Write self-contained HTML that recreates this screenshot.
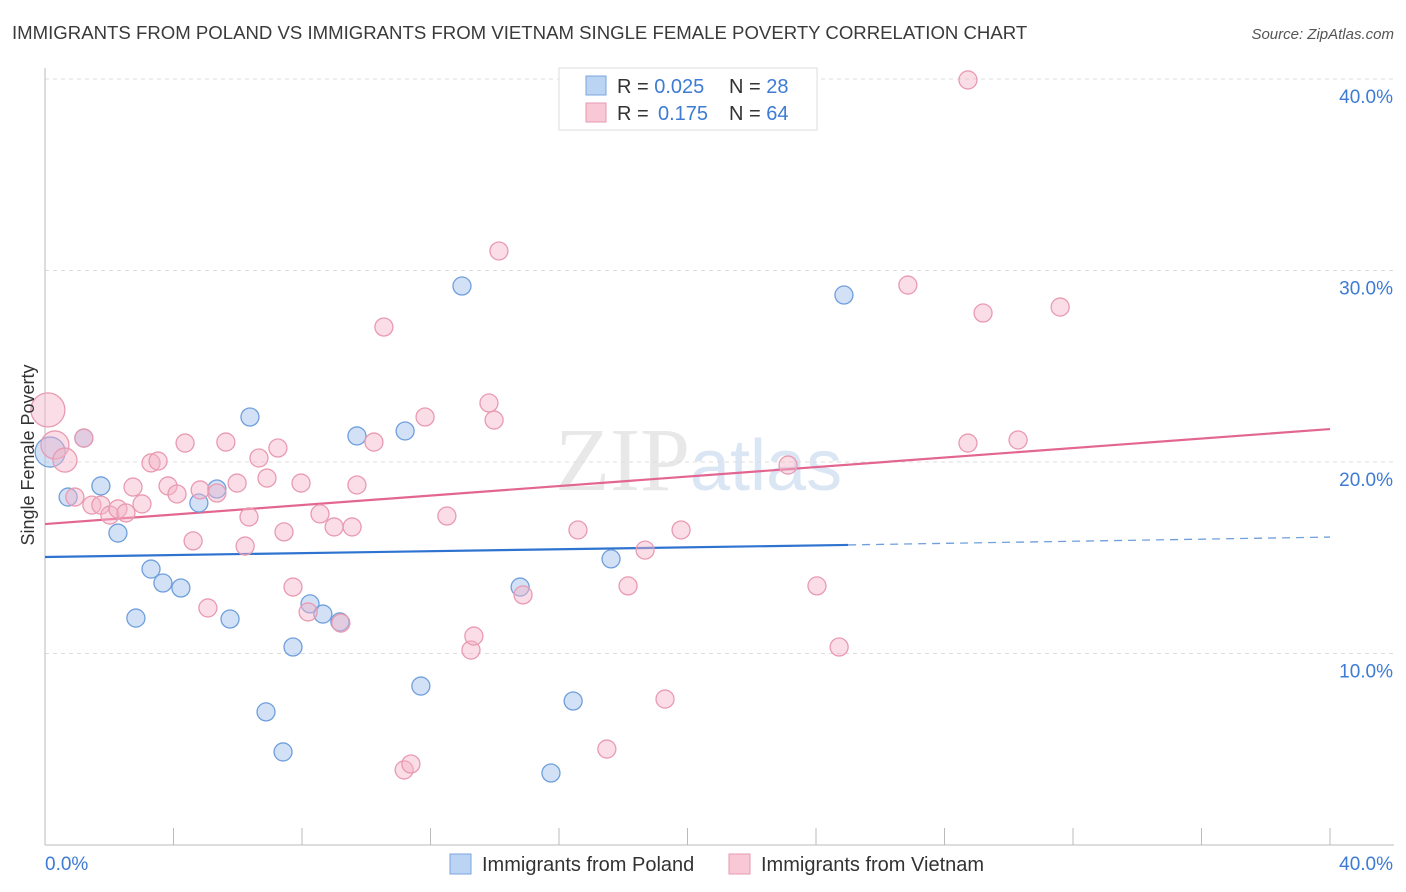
<!DOCTYPE html>
<html><head><meta charset="utf-8">
<style>
body{margin:0;background:#fff;font-family:"Liberation Sans",sans-serif;}
svg{display:block}
</style></head>
<body>
<svg id="chart" width="1406" height="892" xmlns="http://www.w3.org/2000/svg">
<text x="12" y="39" font-size="18.6" fill="#3a3a3a" font-family="Liberation Sans, sans-serif">IMMIGRANTS FROM POLAND VS IMMIGRANTS FROM VIETNAM SINGLE FEMALE POVERTY CORRELATION CHART</text>
<text x="1394" y="39" font-size="15" fill="#555" text-anchor="end" font-style="italic">Source: ZipAtlas.com</text>
<text x="555" y="490" font-size="90" fill="#e8e8e8" font-family="Liberation Serif, serif">ZIP<tspan fill="#dbe6f4" font-family="Liberation Sans, sans-serif" font-size="72">atlas</tspan></text>
<g id="grid"></g>
<g id="axes"></g>
<g id="trend"></g>
<g id="points"></g>
<text transform="translate(34,455) rotate(-90)" font-size="18" fill="#333" text-anchor="middle">Single Female Poverty</text>
<g>
<rect x="559" y="68" width="258" height="62" fill="#fff" stroke="#ddd"/>
<rect x="586" y="76" width="20" height="19" fill="#bcd4f3" stroke="#7aa5dc"/>
<rect x="586" y="103" width="20" height="19" fill="#f9c8d6" stroke="#e99ab1"/>
<text x="617" y="93" font-size="20" fill="#333">R = <tspan fill="#3d7bd4">0.025</tspan><tspan x="729">N = </tspan><tspan fill="#3d7bd4">28</tspan></text>
<text x="617" y="120" font-size="20" fill="#333">R = <tspan x="658" fill="#3d7bd4">0.175</tspan><tspan x="729">N = </tspan><tspan fill="#3d7bd4">64</tspan></text>
</g>
<g>
<rect x="450" y="854" width="21" height="20" fill="#bcd4f3" stroke="#7aa5dc"/>
<text x="482" y="871" font-size="20" fill="#333">Immigrants from Poland</text>
<rect x="729" y="854" width="21" height="20" fill="#f9c8d6" stroke="#e99ab1"/>
<text x="761" y="871" font-size="20" fill="#333">Immigrants from Vietnam</text>
</g>
</svg>
<script>
const polandX=[0.16,1.21,0.72,1.74,2.27,3.30,2.83,3.67,4.23,4.79,5.35,5.76,6.38,6.88,7.41,7.72,8.25,8.65,9.18,9.71,11.21,11.70,12.98,14.79,15.75,16.44,17.62,24.87];
const polandY=[20.52,21.25,18.17,18.75,16.29,14.41,11.85,13.68,13.42,17.86,18.59,11.80,22.35,6.95,4.86,10.34,12.59,12.06,11.65,21.36,21.62,8.30,29.19,13.47,3.76,7.52,14.94,28.72];
const vietnamX=[0.09,0.31,0.62,1.21,0.93,1.46,1.74,2.02,2.27,2.52,2.74,3.02,3.30,3.52,3.83,4.11,4.36,4.61,4.83,5.07,5.35,5.63,5.98,6.23,6.35,6.66,6.91,7.25,7.44,7.72,7.97,8.19,8.56,9.00,9.21,9.56,9.71,10.24,10.55,11.18,11.39,11.83,12.51,13.26,13.35,13.82,13.98,14.13,14.88,16.59,17.49,18.15,18.68,19.30,19.80,23.13,24.03,24.72,26.86,28.73,28.73,29.20,30.29,31.60];
const vietnamY=[22.72,20.89,20.10,21.25,18.17,17.75,17.75,17.23,17.55,17.34,18.69,17.81,19.95,20.05,18.75,18.33,20.99,15.88,18.54,12.38,18.38,21.04,18.90,15.61,17.13,20.21,19.16,20.73,16.35,13.47,18.90,12.17,17.29,16.61,11.59,16.61,18.80,21.04,27.05,3.92,4.23,22.35,17.18,10.18,10.91,23.08,22.19,31.02,13.06,16.45,5.01,13.53,15.40,7.62,16.45,19.84,13.53,10.34,29.24,20.99,39.95,27.78,21.15,28.09];
const polandSize=[15,9,9,9,9,9,9,9,9,9,9,9,9,9,9,9,9,9,9,9,9,9,9,9,9,9,9,9];
const vietnamSize=[17,14,12,9,9,9,9,9,9,9,9,9,9,9,9,9,9,9,9,9,9,9,9,9,9,9,9,9,9,9,9,9,9,9,9,9,9,9,9,9,9,9,9,9,9,9,9,9,9,9,9,9,9,9,9,9,9,9,9,9,9,9,9,9];
const yTicks=[10,20,30,40];
const yTickLabels=["10.0%","20.0%","30.0%","40.0%"];
const xTicks=[0,4,8,12,16,20,24,28,32,36,40];
const polandTrend=[[0,15.04],[25,15.67],[40,16.08]];
const vietnamTrend=[[0,16.76],[40,21.72]];

const NS="http://www.w3.org/2000/svg";
const X=v=>45+v/40*1285;
const Y=v=>845-v/10*191.5;
function mk(tag,attrs,parent){const e=document.createElementNS(NS,tag);for(const k in attrs)e.setAttribute(k,attrs[k]);document.getElementById(parent).appendChild(e);return e;}

yTicks.forEach((t,i)=>{
  const g=mk('line',{x1:45,x2:1394,y1:Y(t),y2:Y(t),stroke:'#dcdcdc','stroke-dasharray':'4,4'},'grid');
  
  
  const l=mk('text',{x:1393,y:Y(t)+24,'text-anchor':'end','font-size':19,fill:'#3d7bd4'},'axes');
  l.textContent=yTickLabels[i];
  
  
});
const ax=mk('line',{x1:45,x2:1394,y1:845,y2:845,stroke:'#bbb'},'axes');


const ay=mk('line',{x1:45,x2:45,y1:68,y2:845,stroke:'#bbb'},'axes');


xTicks.forEach(t=>{
  const tk=mk('line',{x1:X(t),x2:X(t),y1:828,y2:845,stroke:'#bbb'},'axes');
  
  
});
const x0=mk('text',{x:45,y:870,'font-size':19,fill:'#3d7bd4'},'axes');x0.textContent='0.0%';


const x1=mk('text',{x:1393,y:870,'font-size':19,fill:'#3d7bd4','text-anchor':'end'},'axes');x1.textContent='40.0%';



polandX.forEach((v,i)=>{
  const c=mk('circle',{cx:X(v),cy:Y(polandY[i]),r:polandSize[i],fill:'rgba(165,196,238,0.5)',stroke:'#6f9fdc','stroke-width':1.3},'points');
  
  
});
vietnamX.forEach((v,i)=>{
  const c=mk('circle',{cx:X(v),cy:Y(vietnamY[i]),r:vietnamSize[i],fill:'rgba(245,180,200,0.45)',stroke:'#e99ab1','stroke-width':1.3},'points');
  
  
});
const p1=mk('line',{x1:X(polandTrend[0][0]),y1:Y(polandTrend[0][1]),x2:X(polandTrend[1][0]),y2:Y(polandTrend[1][1]),stroke:'#2f73d0','stroke-width':2.2},'trend');


const p2=mk('line',{x1:X(polandTrend[1][0]),y1:Y(polandTrend[1][1]),x2:X(polandTrend[2][0]),y2:Y(polandTrend[2][1]),stroke:'#6f9fdc','stroke-width':1.3,'stroke-dasharray':'8,6'},'trend');


const v1=mk('line',{x1:X(vietnamTrend[0][0]),y1:Y(vietnamTrend[0][1]),x2:X(vietnamTrend[1][0]),y2:Y(vietnamTrend[1][1]),stroke:'#e36690','stroke-width':2.2},'trend');


</script>
</body></html>
